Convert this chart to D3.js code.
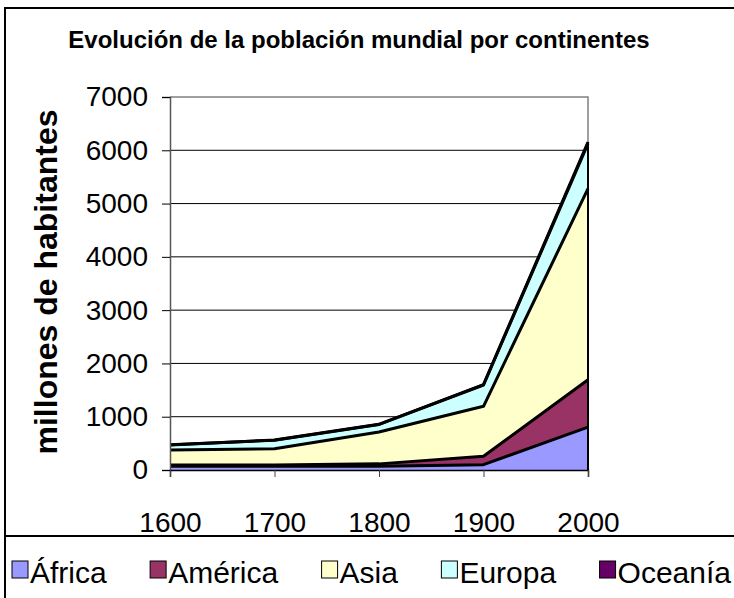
<!DOCTYPE html>
<html><head><meta charset="utf-8">
<script src="https://cdn.jsdelivr.net/npm/d3@7"></script>
<style>body{margin:0;background:#fff}svg{display:block}svg text{font-family:Arial,"Liberation Sans",Helvetica,sans-serif}</style>
</head><body><svg id="c" width="734" height="598"></svg>
<script>
const years = ["1600","1700","1800","1900","2000"];
const seriesNames = ["África","América","Asia","Europa","Oceanía"];
const africa  = [70, 70, 70, 100, 805];
const america = [25, 25, 45, 157, 890];
const asia    = [280, 305, 598, 938, 3585];
const europa  = [96, 160, 142, 400, 845];
const oceania = [2, 2, 2, 6, 30];
const colors  = ["#9999FF","#993366","#FFFFCC","#CCFFFF","#660066"];
const yTicks  = [0,1000,2000,3000,4000,5000,6000,7000];
const title = "Evolución de la población mundial por continentes";
const yTitle = "millones de habitantes";

const svg = d3.select("#c");
const M = {l:170, r:588, t:97, b:470};
const rows = years.map((y,i)=>({year:y, "África":africa[i], "América":america[i], "Asia":asia[i], "Europa":europa[i], "Oceanía":oceania[i]}));
const stacked = d3.stack().keys(seriesNames)(rows);

const x = d3.scalePoint().domain(years).range([M.l, M.r]);
const y = d3.scaleLinear().domain([0,7000]).range([M.b, M.t]);

svg.append("rect").attr("x",5).attr("y",8).attr("width",740).attr("height",600)
  .attr("fill","#fff").attr("stroke","#000").attr("stroke-width",2);

svg.append("text").attr("x",359).attr("y",48).attr("text-anchor","middle")
  .attr("font-weight","bold").attr("font-size",24).text(title);

svg.append("g").selectAll("line").data(yTicks.filter(d=>d>0 && d<7000)).join("line")
  .attr("x1",M.l).attr("x2",M.r).attr("y1",d=>y(d)).attr("y2",d=>y(d))
  .attr("stroke","#000").attr("stroke-width",1);
svg.append("path").attr("d",`M${M.l},${M.t}H${M.r}V${M.b}`).attr("fill","none").attr("stroke","#808080").attr("stroke-width",1.5);

const area = d3.area().x((d,i)=>x(years[i])).y0(d=>y(d[0])).y1(d=>y(d[1]));
svg.append("g").selectAll("path").data(stacked).join("path")
  .attr("d",area).attr("fill",(d,i)=>colors[i]);
const line = d3.line().x((d,i)=>x(years[i])).y(d=>y(d[1]));
svg.append("g").selectAll("path").data(stacked).join("path")
  .attr("d",line).attr("fill","none").attr("stroke","#000").attr("stroke-width",3).attr("stroke-linejoin","round");
svg.append("line").attr("x1",M.r).attr("x2",M.r).attr("y1",y(0)).attr("y2",y(stacked[stacked.length-1][4][1]))
  .attr("stroke","#000").attr("stroke-width",2);

const yAxis = d3.axisLeft(y).tickValues(yTicks).tickSize(8).tickPadding(14).tickFormat(d3.format("d"));
const gy = svg.append("g").attr("transform",`translate(${M.l},0)`).call(yAxis);
gy.attr("font-family",null);
gy.select(".domain").attr("stroke","#555").attr("stroke-width",1.5);
gy.selectAll(".tick line").attr("stroke","#000");
gy.selectAll("text").attr("font-size",28).attr("fill","#000");

const xAxis = d3.axisBottom(x).tickSize(7).tickPadding(34);
const gx = svg.append("g").attr("transform",`translate(0,${M.b})`).call(xAxis);
gx.attr("font-family",null);
gx.select(".domain").attr("stroke","#000").attr("stroke-width",1.5);
gx.selectAll(".tick line").attr("stroke","#444");
gx.selectAll("text").attr("font-size",28).attr("fill","#000").attr("dy","0.75em");

svg.append("text").attr("transform","translate(57,282) rotate(-90)").attr("text-anchor","middle")
  .attr("font-weight","bold").attr("font-size",32).text(yTitle);

svg.append("rect").attr("x",5).attr("y",536).attr("width",740).attr("height",80)
  .attr("fill","#fff").attr("stroke","#000").attr("stroke-width",2);
const lg = svg.append("g");
let cx = 12;
const widths = [];
seriesNames.forEach((n,i)=>{
  const g = lg.append("g");
  g.append("rect").attr("x",0).attr("y",-22).attr("width",16).attr("height",17)
    .attr("fill",colors[i]).attr("stroke","#000").attr("stroke-width",1);
  const t = g.append("text").attr("x",18).attr("y",0).attr("font-size",30).text(n);
  widths.push({g, w:18+t.node().getComputedTextLength()});
});
const total = widths.reduce((a,b)=>a+b.w,0);
const gap = (731-12-total)/4;
widths.forEach(o=>{ o.g.attr("transform",`translate(${cx},583)`); cx += o.w+gap; });
</script></body></html>
